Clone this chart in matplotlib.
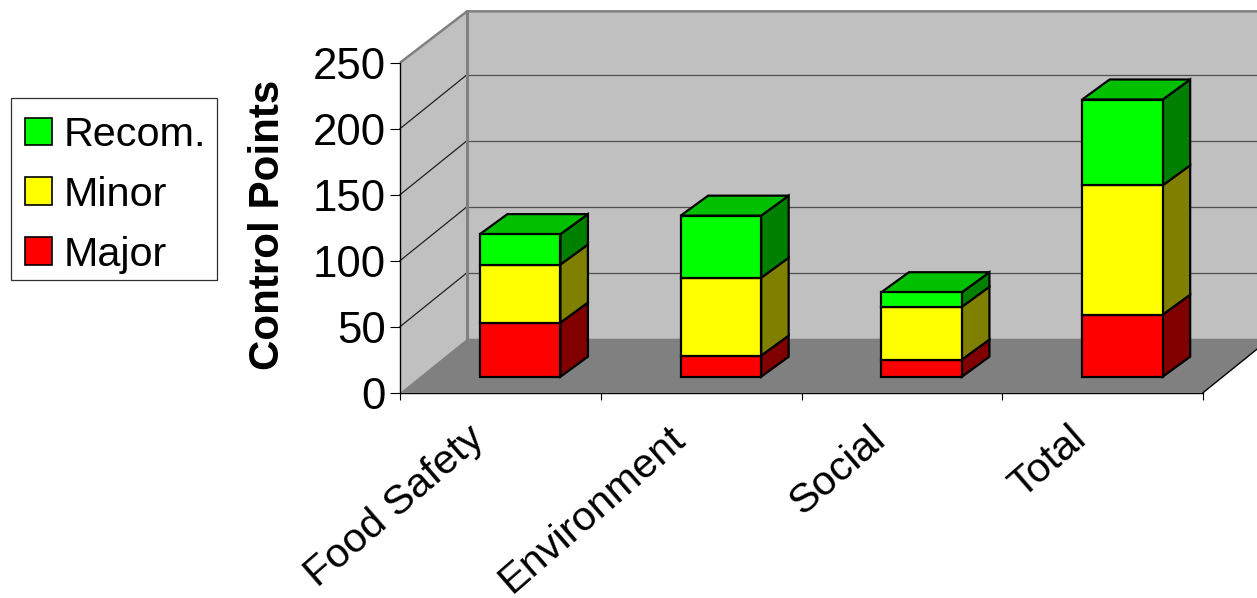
import matplotlib
matplotlib.use("Agg")
import matplotlib.pyplot as plt
import matplotlib.transforms as mtransforms
import numpy as np
from matplotlib.patches import Patch, Polygon, Rectangle

plt.rcParams["font.family"] = ["Liberation Sans", "DejaVu Sans"]

categories = ["Food Safety", "Environment", "Social", "Total"]
major = [41, 16, 13, 47]
minor = [44, 59, 40, 98]
recom = [23, 47, 11, 65]
y_ticks = [0, 50, 100, 150, 200, 250]

W, H = 1257, 598
# plot box in pixels
x0_px, x1_px = 400, 1203
y0_px, y1_px = 392.7, 62.7
px_x = (x1_px - x0_px) / 4
px_y = (y0_px - y1_px) / 250

# depth of the chart box and of the bars, in data units
depth_x = 67 / px_x
depth_y = 54 / px_y
bar_x = 27.5 / px_x
bar_y = 20 / px_y
lift_x = 19.8 / px_x
lift_y = 16 / px_y
bar_w = 80.5 / px_x
edge = 1.6

WALL = "#C0C0C0"
FLOOR = "#808080"
series = [
    ("Major", major, "#FF0000", "#800000", "#C00000"),
    ("Minor", minor, "#FFFF00", "#808000", "#C0C000"),
    ("Recom.", recom, "#00FF00", "#008000", "#00C000"),
]

fig = plt.figure(figsize=(W / 100, H / 100), dpi=100)
ax = fig.add_axes([x0_px / W, 1 - y0_px / H, (x1_px - x0_px) / W, (y0_px - y1_px) / H])
ax.set_xlim(0, 4)
ax.set_ylim(0, 250)
ax.patch.set_visible(False)


def poly(pts, z, **kw):
    ax.add_patch(Polygon(pts, closed=True, clip_on=False, zorder=z, **kw))


# walls and floor
top_back = 248
poly([(0, 0), (depth_x, depth_y), (depth_x, top_back + depth_y), (0, 250)], 1,
     facecolor=WALL, edgecolor="none")
poly([(depth_x, depth_y), (4 + depth_x, depth_y), (4 + depth_x, top_back + depth_y),
      (depth_x, top_back + depth_y)], 1, facecolor=WALL, edgecolor="none")
poly([(0, 0), (4, 0), (4 + depth_x, depth_y), (depth_x, depth_y)], 1,
     facecolor=FLOOR, edgecolor="none")

# gridlines run along the side wall and across the back wall
for v in y_ticks[1:-1]:
    ax.plot([0, depth_x], [v, v + depth_y], color="#202020", lw=0.9, clip_on=False, zorder=2)
    ax.plot([depth_x, 4 + depth_x], [v + depth_y, v + depth_y], color="#505050", lw=0.9,
            clip_on=False, zorder=2)

# grey frame of the walls
ax.plot([0, depth_x, 4 + depth_x], [250, top_back + depth_y, top_back + depth_y],
        color=FLOOR, lw=1.8, clip_on=False, zorder=2, solid_capstyle="butt")
ax.plot([depth_x, depth_x], [depth_y, top_back + depth_y], color=FLOOR, lw=2.2,
        clip_on=False, zorder=2)
ax.plot([4, 4 + depth_x], [0, depth_y], color="black", lw=1, clip_on=False, zorder=3)

# stacked bars: front face with ax.bar, side and top as polygons
x = np.arange(4) + 0.5 + lift_x
bottom = np.zeros(4) + lift_y
for name, vals, front, side, top in series:
    vals = np.array(vals, dtype=float)
    ax.bar(x, vals, bar_w, bottom=bottom, color=front, edgecolor="black", lw=edge,
           zorder=5, clip_on=False)
    for xi, b, v in zip(x, bottom, vals):
        r = xi + bar_w / 2
        poly([(r, b), (r + bar_x, b + bar_y), (r + bar_x, b + v + bar_y), (r, b + v)], 4,
             facecolor=side, edgecolor="black", lw=edge)
    bottom = bottom + vals
    if name == "Recom.":
        for xi, t in zip(x, bottom):
            l, r = xi - bar_w / 2, xi + bar_w / 2
            poly([(l, t), (r, t), (r + bar_x, t + bar_y), (l + bar_x, t + bar_y)], 4,
                 facecolor=top, edgecolor="black", lw=edge)

# axes
for s in ["top", "right"]:
    ax.spines[s].set_visible(False)
for s in ["left", "bottom"]:
    ax.spines[s].set_linewidth(1)
    ax.spines[s].set_zorder(3)
ax.set_yticks(y_ticks)
ax.tick_params(axis="y", labelsize=31.5, length=7, width=0.8, pad=3)
ax.set_xticks(range(5))
ax.set_xticklabels([])
ax.tick_params(axis="x", which="major", length=5, width=0.8)
ax.set_xticks(np.arange(4) + 0.5, minor=True)
ax.set_xticklabels(categories, minor=True, rotation=41, ha="right", va="top",
                   rotation_mode="anchor", fontsize=29.8)
ax.tick_params(axis="x", which="minor", length=0, pad=19)
offset = mtransforms.ScaledTranslation(-34 / 100, 0, fig.dpi_scale_trans)
for lab in ax.get_xticklabels(minor=True):
    lab.set_transform(lab.get_transform() + offset)

ax.set_ylabel("Control Points", fontsize=30.3, fontweight="bold")
ax.yaxis.set_label_coords((288 - x0_px) / (x1_px - x0_px), (y0_px - 225) / (y0_px - y1_px))

# legend, with its box drawn separately
fig.add_artist(Rectangle((10.5 / W, 1 - 279.5 / H), 206.5 / W, 181.5 / H, facecolor="white",
                         edgecolor="#303030", lw=0.9, transform=fig.transFigure, zorder=-1))
handles = [Patch(facecolor=c, edgecolor="black", lw=1.2, label=n) for n, _, c, _, _ in series[::-1]]
leg = ax.legend(handles=handles, loc="upper left", bbox_to_anchor=(25 / W, 1 - 116 / H),
                bbox_transform=fig.transFigure, fontsize=29.8, frameon=False, borderaxespad=0,
                borderpad=0, handlelength=0.66, handleheight=0.66, handletextpad=0.27,
                labelspacing=0.53)
leg.set_zorder(6)

fig.savefig("out.png", dpi=100)
